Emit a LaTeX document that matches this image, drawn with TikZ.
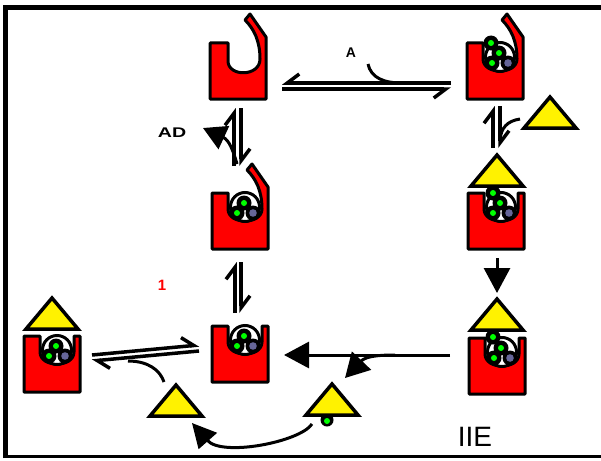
\documentclass[tikz,border=0pt]{standalone}
\usepackage{fontspec}
\setmainfont{Liberation Sans}
\usetikzlibrary{arrows.meta,calc}

\definecolor{ligand}{RGB}{0,255,0}
\definecolor{slate}{RGB}{102,102,153}

\tikzset{
  body/.style={draw=black, fill=red, line width=3pt, line join=round},
  pocketline/.style={draw=black, fill=white, line width=3pt},
  lid/.style={draw=black, fill=yellow, line width=3.5pt, line join=miter},
  pics/ball/.style={code={
    \fill[black] (0,0) circle (7.5);
    \fill[ligand] (0,0) circle (3);
  }},
  pics/slateball/.style={code={
    \fill[black] (0,0) circle (7.5);
    \fill[slate] (0,0) circle (3.8);
  }},
  pics/pocket/.style={code={
    \draw[pocketline] (5,-14) circle (14.5);
    \pic at (4,-18) {ball};
    \pic at (-3,-8) {ball};
    \pic at (13,-8) {slateball};
  }},
  % body with an empty cleft and the flap standing open
  pics/openbody/.style={code={
    \draw[body] (-28,-28) -- (-10,-28) -- (-10,-10)
      .. controls (-10,6) and (22,6) .. (22,-12)
      .. controls (22,-30) and (16,-42) .. (7,-51)
      -- (12,-57) -- (28,-34) -- (28,28) -- (-28,28) -- cycle;
  }},
  pics/hookbody/.style={code={
    \draw[body] (-28,-28) -- (-12,-28) -- (-12,-12)
      .. controls (-12,4) and (22,4) .. (22,-12)
      .. controls (22,-30) and (16,-42) .. (7,-51)
      -- (12,-57) -- (28,-34) -- (28,28) -- (-28,28) -- cycle;
    \pic {pocket};
  }},
  pics/notchbody/.style={code={
    \draw[body] (-28,-28) -- (-12,-28) -- (-12,-12)
      .. controls (-12,4) and (22,4) .. (22,-12)
      -- (22,-28) -- (28,-28) -- (28,28) -- (-28,28) -- cycle;
    \pic {pocket};
  }},
  pics/atp/.style={code={
    \draw[lid] (-26,0) -- (0,-31) -- (26,0) -- cycle;
  }}
}

\begin{document}
\begin{tikzpicture}[x=1pt, y=-1pt,
  cell/.style={minimum width=58pt, minimum height=58pt, inner sep=0pt, outer sep=0pt},
  harpL/.style={line width=3.5pt, -{Straight Barb[harpoon, length=12pt, width=18pt]}},
  harpR/.style={line width=3.5pt, -{Straight Barb[harpoon, swap, length=12pt, width=18pt]}},
  sidecurve/.style={line width=3pt},
  push/.style={line width=3pt, -{Triangle[length=25pt, width=26pt]}},
  tag/.style={font=\bfseries\fontsize{14}{14}\selectfont, inner sep=0pt}
]
\useasboundingbox (0,0) rectangle (601,460);

% frame
\draw[line width=4.5pt] (5.5,458) -- (5.5,7.5) -- (601,7.5);
\draw[line width=3pt] (4,456.5) -- (601,456.5);

% states of the cycle
\node[cell] (empty)  at (238,71)  {};
\node[cell] (loaded) at (495,71)  {};
\node[cell] (hooked) at (240,221) {};
\node[cell] (capped) at (496,221) {};
\node[cell] (primed) at (497,366) {};
\node[cell] (shut)   at (240,354) {};
\node[cell] (spare)  at (52,364)  {};

% yellow lids
\coordinate (lidfree)  at (550,128);
\coordinate (lidcap)   at (497,186);
\coordinate (lidprime) at (497,330);
\coordinate (lidspare) at (52,329);
\coordinate (lidout)   at (176,416);
\coordinate (lidin)    at (332,415);
\foreach \l in {lidfree, lidcap, lidprime, lidspare, lidout}
  \pic at (\l) {atp};
\fill[black] ($(lidin)+(-5,5)$) circle (6.5);
\fill[ligand] ($(lidin)+(-5,6)$) circle (3);
\pic at (lidin) {atp};

\pic at (empty) {openbody};
\pic at (loaded) {hookbody};
\pic at ($(loaded)+(-4,-28)$) {ball};
\pic at (hooked) {hookbody};
\pic at (capped) {notchbody};
\pic at ($(capped)+(-3,-28)$) {ball};
\pic at (primed) {notchbody};
\pic at ($(primed)+(-4,-29)$) {ball};
\pic at (shut) {notchbody};
\pic at (spare) {notchbody};

% top equilibrium
\draw[harpR] ([shift={(-15,12)}]loaded.west) -- ([shift={(15,12)}]empty.east);
\draw[harpR] ([shift={(15,18)}]empty.east) -- ([shift={(-15,18)}]loaded.west);
\coordinate (ain) at (368,64);
\draw[sidecurve] (ain) .. controls (371,78) and (384,83) .. (402,83);

% right equilibrium
\draw[harpL] ([shift={(-2,48)}]loaded.south) -- ([shift={(-2,6)}]loaded.south);
\draw[harpL] ([shift={(5,6)}]loaded.south) -- ([shift={(5,48)}]loaded.south);
\draw[sidecurve] ($(lidfree)+(-30,-9)$) .. controls (507,121) and (501,128) .. (500,140);

% left equilibria
\draw[harpL] ([shift={(-4,66)}]empty.south) -- ([shift={(-4,8)}]empty.south);
\draw[harpL] ([shift={(3,8)}]empty.south) -- ([shift={(3,66)}]empty.south);
\draw[push, -{Triangle[length=23pt, width=25pt]}] (237,164) .. controls (233,150) and (229,140) .. (203,128);
\draw[harpL] ([shift={(-5,63)}]hooked.south) -- ([shift={(-5,12)}]hooked.south);
\draw[harpL] ([shift={(1,12)}]hooked.south) -- ([shift={(1,63)}]hooked.south);

% bottom equilibrium
\draw[harpL] ([shift={(11,-9)}]spare.east) -- ([shift={(-12,-9)}]shut.west);
\draw[harpL] ([shift={(-12,-3)}]shut.west) -- ([shift={(11,-3)}]spare.east);
\draw[sidecurve] (128,361) .. controls (148,361) and (160,370) .. ($(lidout)+(-12,-34)$);

% release of the lid
\draw[push] ([shift={(1,8)}]capped.south) -- ([shift={(1,43)}]capped.south);
\draw[push] ([shift={(-18,-11)}]primed.west) -- ([shift={(15,1)}]shut.east);
\draw[push, -{Triangle[length=24pt, width=26pt]}] (395,355) .. controls (375,355) and (365,357) .. (345,378);
\draw[push, -{Triangle[length=24pt, width=24pt]}] (312,424) .. controls (300,442) and (222,457) .. (192,423);

% labels
\node[tag] (atag) at (351,53) {A};
\node[tag, xscale=1.4] (adtag) at (172,133) {AD};
\node[tag, text=red, font=\bfseries\fontsize{15}{15}\selectfont] (steptag) at (162,285) {1};
\node[font=\fontsize{28}{28}\selectfont, inner sep=0pt] (iietag) at (475,437) {IIE};
\end{tikzpicture}
\end{document}
